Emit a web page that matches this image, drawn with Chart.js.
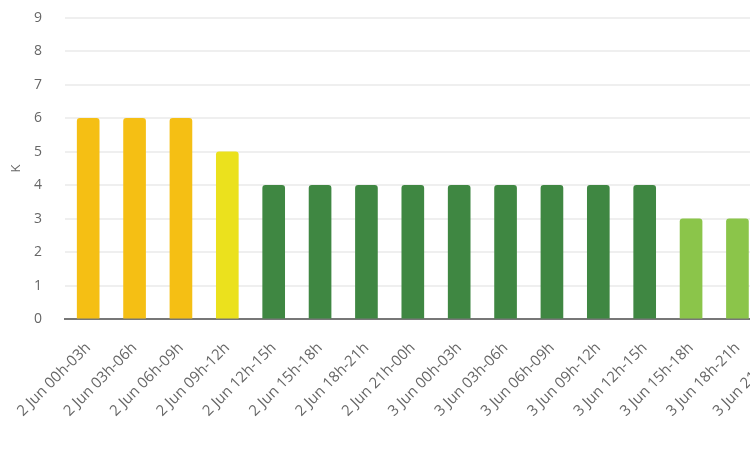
<!DOCTYPE html>
<html>
<head>
<meta charset="utf-8">
<script src="https://cdn.jsdelivr.net/npm/chart.js@4"></script>
<style>
  html, body { margin: 0; padding: 0; background: #fff; overflow: hidden; }
  #wrap { position: relative; width: 807px; height: 465px; }
</style>
</head>
<body>
<div id="wrap"><canvas id="chart"></canvas></div>
<script>
// Three-hour periods
const periods = [
  '2 Jun 00h-03h', '2 Jun 03h-06h', '2 Jun 06h-09h', '2 Jun 09h-12h',
  '2 Jun 12h-15h', '2 Jun 15h-18h', '2 Jun 18h-21h', '2 Jun 21h-00h',
  '3 Jun 00h-03h', '3 Jun 03h-06h', '3 Jun 06h-09h', '3 Jun 09h-12h',
  '3 Jun 12h-15h', '3 Jun 15h-18h', '3 Jun 18h-21h', '3 Jun 21h-00h'
];
// K index per period (last period not available)
const kIndex = [6, 6, 6, 5, 4, 4, 4, 4, 4, 4, 4, 4, 4, 3, 3, null];
const yTicks = [0, 1, 2, 3, 4, 5, 6, 7, 8, 9];

// Colour by activity level
function kColour(k) {
  if (k >= 6) return '#f5bf14';
  if (k >= 5) return '#ebe11d';
  if (k >= 4) return '#3f8742';
  return '#8bc54a';
}

new Chart(document.getElementById('chart'), {
  type: 'bar',
  data: {
    labels: periods,
    datasets: [{
      label: 'K',
      data: kIndex,
      backgroundColor: kIndex.map(kColour),
      borderRadius: { topLeft: 3, topRight: 3, bottomLeft: 0, bottomRight: 0 },
      borderSkipped: false,
      barThickness: 22
    }]
  },
  options: {
    responsive: true,
    maintainAspectRatio: false,
    animation: false,
    layout: { padding: { top: 18, right: 0, bottom: 25, left: 0 } },
    plugins: { legend: { display: false }, tooltip: { enabled: false } },
    scales: {
      x: {
        // rotated labels may hang past the left edge of the plot
        afterFit: (axis) => { axis.paddingLeft = 0; axis.paddingRight = 0; },
        grid: { display: false, drawTicks: false },
        border: { display: true, color: '#777', width: 2 },
        ticks: {
          color: '#666',
          font: { family: 'Open Sans', size: 15 },
          minRotation: 45, maxRotation: 45,
          autoSkip: false,
          padding: 20
        }
      },
      y: {
        min: 0, max: 9,
        afterBuildTicks: (axis) => { axis.ticks = yTicks.map(v => ({ value: v })); },
        // fixed gutter for the K title and tick labels
        afterFit: (axis) => { axis.width = 65; axis.paddingTop = 0; axis.paddingBottom = 0; },
        grid: { color: '#efefef', lineWidth: 2, drawTicks: false },
        border: { display: false },
        ticks: {
          color: '#666',
          font: { family: 'Open Sans', size: 14 },
          padding: 23
        },
        title: {
          display: true,
          text: 'K',
          color: '#666',
          font: { family: 'Open Sans', size: 13 },
          padding: { top: 8, bottom: 0 }
        }
      }
    }
  }
});
</script>
</body>
</html>
